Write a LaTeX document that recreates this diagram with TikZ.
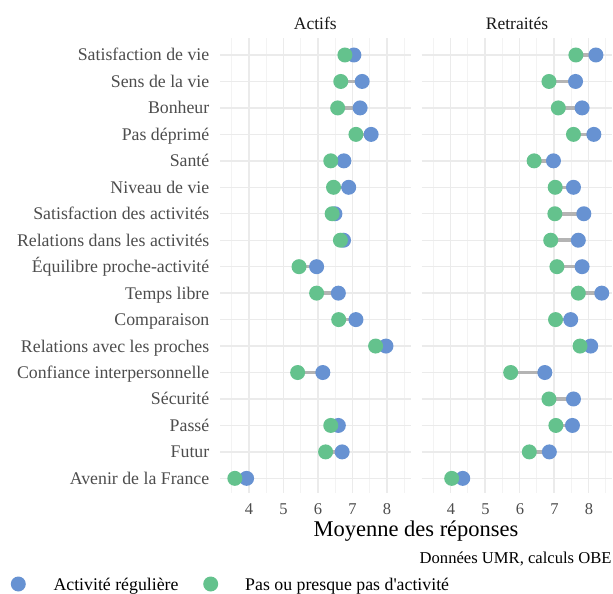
\documentclass[tikz,border=0pt]{standalone}
\usepackage{fontspec}
\setmainfont{Liberation Serif}
\usepackage{tikz}

\definecolor{actblue}{HTML}{6792D2}
\definecolor{actgreen}{HTML}{64C28D}
\definecolor{gridgray}{HTML}{EBEBEB}
\definecolor{minorgray}{HTML}{F3F3F3}
\definecolor{seggray}{HTML}{B4B4B4}
\definecolor{labgray}{HTML}{4D4D4D}

\tikzset{
  dot/.style={circle, inner sep=0pt, minimum size=15pt},
  seg/.style={seggray, line width=3.5pt},
  majorgrid/.style={gridgray, line width=1.4pt},
  minorgrid/.style={minorgray, line width=0.7pt},
  ylab/.style={anchor=base east, inner sep=0pt, text=labgray, font=\fontsize{17.8}{20}\selectfont},
  xlab/.style={anchor=base, inner sep=0pt, text=labgray, font=\fontsize{16.5}{19}\selectfont},
  strip/.style={anchor=base, inner sep=0pt, text=black!90, font=\fontsize{17.5}{20}\selectfont},
  legtext/.style={anchor=base west, inner sep=0pt, font=\fontsize{17.8}{20}\selectfont},
  declare function={rowy(\i)=55+(\i-1)*26.46; ax(\v)=249+(\v-4)*34.5; rx(\v)=451+(\v-4)*34.5;}
}

\begin{document}
\begin{tikzpicture}[x=1pt, y=-1pt]
    \useasboundingbox (0,0) rectangle (613,594);

    \foreach \px in {220,421.5} {
        \foreach \v in {3.5,4.5,...,8.5}
            \draw[minorgrid] ({\px+29+(\v-4)*34.5},38) -- ++(0,455.3);
        \foreach \v in {4,...,8}
            \draw[majorgrid] ({\px+29+(\v-4)*34.5},38) -- ++(0,455.3);
        \foreach \i in {1,...,17}
            \draw[majorgrid] (\px,{rowy(\i)}) -- ++(190.7,0);
    }

    \node[strip] (actifs) at (315.3,29.3) {Actifs};
    \node[strip] (retraites) at (517,29.3) {Retraités};

    \foreach \lab [count=\i] in {Satisfaction de vie, Sens de la vie, Bonheur, Pas déprimé, Santé,
        Niveau de vie, Satisfaction des activités, Relations dans les activités,
        Équilibre proche-activité, Temps libre, Comparaison, Relations avec les proches,
        Confiance interpersonnelle, Sécurité, Passé, Futur, Avenir de la France}
        \node[ylab] (lab\i) at (209.5,{rowy(\i)+6}) {\lab};

    \foreach \i/\g/\b in {1/6.78/7.04, 2/6.66/7.28, 3/6.57/7.22, 4/7.10/7.54, 5/6.37/6.75,
        6/6.45/6.89, 7/6.41/6.49, 8/6.65/6.74, 9/5.45/5.96, 10/5.96/6.59, 11/6.60/7.10,
        12/7.67/7.97, 13/5.41/6.14, 15/6.37/6.59, 16/6.22/6.70, 17/3.59/3.93} {
        \coordinate (ag\i) at ({ax(\g)},{rowy(\i)});
        \coordinate (ab\i) at ({ax(\b)},{rowy(\i)});
        \draw[seg] (ag\i) -- (ab\i);
        \node[dot, fill=actblue] (actb\i) at (ab\i) {};
        \node[dot, fill=actgreen] (actg\i) at (ag\i) {};
    }

    \foreach \i/\g/\b in {1/7.62/8.20, 2/6.84/7.61, 3/7.11/7.80, 4/7.55/8.14, 5/6.41/6.97,
        6/7.02/7.55, 7/7.01/7.85, 8/6.89/7.69, 9/7.07/7.80, 10/7.69/8.37, 11/7.03/7.47,
        12/7.74/8.05, 13/5.73/6.72, 14/6.84/7.55, 15/7.04/7.52, 16/6.27/6.85, 17/4.02/4.34} {
        \coordinate (rg\i) at ({rx(\g)},{rowy(\i)});
        \coordinate (rb\i) at ({rx(\b)},{rowy(\i)});
        \draw[seg] (rg\i) -- (rb\i);
        \node[dot, fill=actblue] (retb\i) at (rb\i) {};
        \node[dot, fill=actgreen] (retg\i) at (rg\i) {};
    }

    \foreach \v in {4,...,8} {
        \node[xlab] (at\v) at ({ax(\v)},514.3) {\v};
        \node[xlab] (rt\v) at ({rx(\v)},514.3) {\v};
    }

    \node[anchor=base, inner sep=0pt, font=\fontsize{22.5}{26}\selectfont] (title) at (416,536.7) {Moyenne des réponses};
    \node[anchor=base east, inner sep=0pt, font=\fontsize{16.6}{19}\selectfont] (caption) at (611.7,563.3) {Données UMR, calculs OBE};

    \node[dot, fill=actblue] (legb) at (18.3,584) {};
    \node[legtext] (legbtext) at (53.3,590) {Activité régulière};
    \node[dot, fill=actgreen] (legg) at (210.7,584) {};
    \node[legtext] (leggtext) at (245,590) {Pas ou presque pas d\textquotesingle activité};
\end{tikzpicture}
\end{document}
